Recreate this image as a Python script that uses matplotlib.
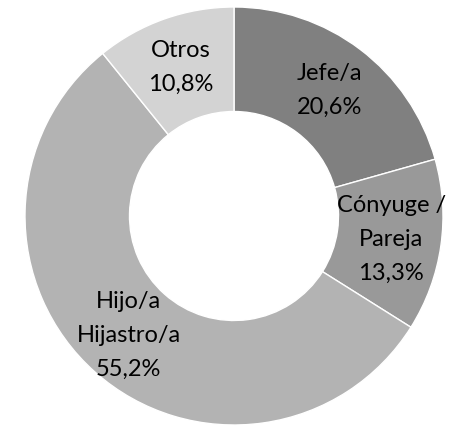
import numpy as np
import matplotlib
matplotlib.use('Agg')
import matplotlib.pyplot as plt

labels = ['Jefe/a', 'Cónyuge /\nPareja', 'Hijo/a\nHijastro/a', 'Otros']
values = [20.6, 13.3, 55.2, 10.8]
colors = ['#808080', '#999999', '#b3b3b3', '#d3d3d3']

plt.rcParams['font.family'] = ['Lato', 'DejaVu Sans']

fig = plt.figure(figsize=(4.54, 4.27), dpi=100)
ax = fig.add_axes([0, 0, 1, 1])

wedges, _ = ax.pie(values, colors=colors, startangle=90, counterclock=False,
                   radius=1.0,
                   wedgeprops=dict(width=0.5, edgecolor='white', linewidth=1))

for w, lab, v in zip(wedges, labels, values):
    ang = np.deg2rad((w.theta1 + w.theta2) / 2)
    r = 0.76
    txt = lab + '\n' + ('%.1f%%' % v).replace('.', ',')
    ax.text(r * np.cos(ang), r * np.sin(ang), txt, ha='center', va='center',
            fontsize=17, color='black', linespacing=1.75)

ax.set_xlim(-234 / 209, (454 - 234) / 209)
ax.set_ylim(-210 / 209, 217 / 209)
ax.set_aspect('auto')
ax.axis('off')

fig.savefig('out.png', dpi=100)
